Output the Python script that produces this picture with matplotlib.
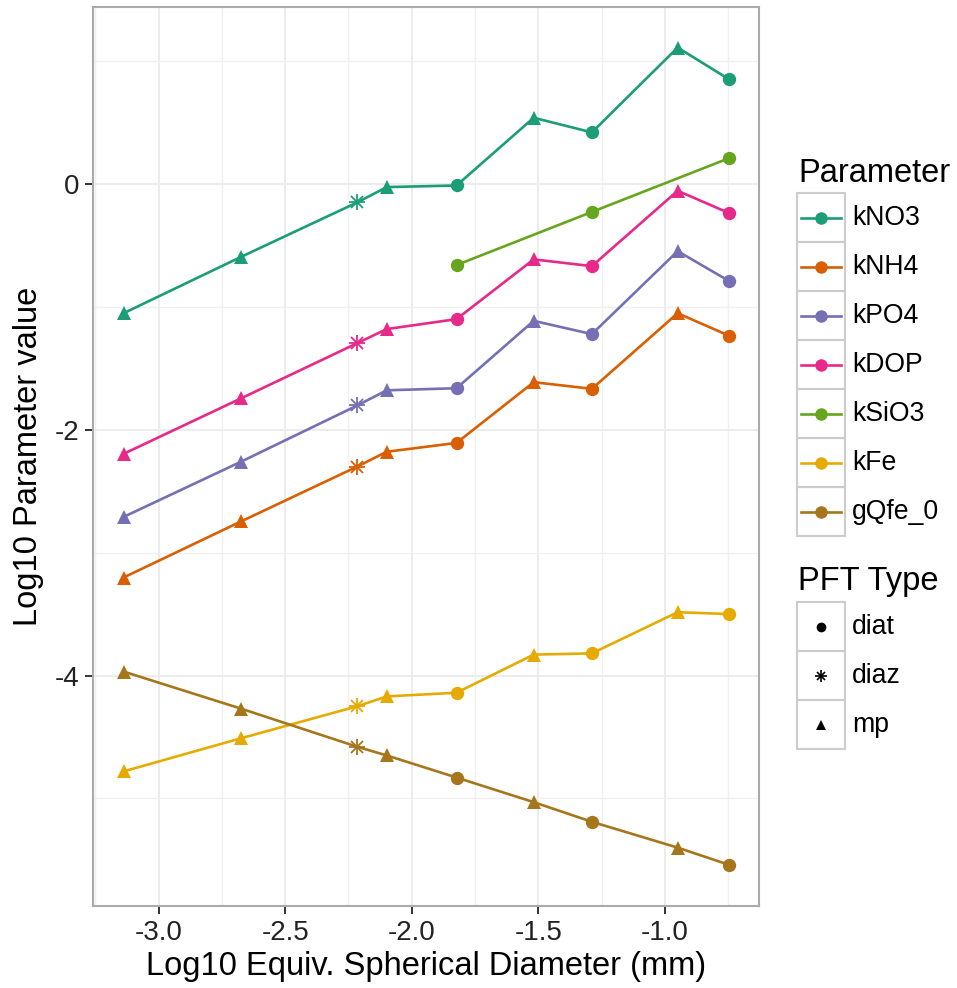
import numpy as np
import matplotlib
matplotlib.use('Agg')
from matplotlib import pyplot as plt
from matplotlib.patches import Rectangle

plt.rcParams['font.family'] = ['Liberation Sans', 'DejaVu Sans']

# log10 ESD (mm) of each PFT size class, and its type
esd = [-3.139, -2.674, -2.215, -2.099, -1.823, -1.518, -1.288, -0.949, -0.746]
pft = ['mp', 'mp', 'diaz', 'mp', 'diat', 'mp', 'diat', 'mp', 'diat']

params = ['kNO3', 'kNH4', 'kPO4', 'kDOP', 'kSiO3', 'kFe', 'gQfe_0']
kNO3 = [-1.053, -0.594, -0.151, -0.027, -0.014, 0.537, 0.418, 1.108, 0.850]
kNH4 = [-3.203, -2.746, -2.300, -2.180, -2.108, -1.614, -1.668, -1.053, -1.236]
kPO4 = [-2.710, -2.260, -1.803, -1.680, -1.663, -1.115, -1.223, -0.548, -0.791]
kDOP = [-2.197, -1.745, -1.296, -1.182, -1.101, -0.615, -0.670, -0.057, -0.238]
kSiO3 = [np.nan, np.nan, np.nan, np.nan, -0.661, np.nan, -0.229, np.nan, 0.208]
kFe = [-4.780, -4.510, -4.250, -4.170, -4.140, -3.830, -3.820, -3.485, -3.500]
gQfe_0 = [-3.968, -4.270, -4.580, -4.650, -4.830, -5.030, -5.190, -5.400, -5.540]
values = [kNO3, kNH4, kPO4, kDOP, kSiO3, kFe, gQfe_0]

colors = ['#1B9E77', '#D95F02', '#7570B3', '#E7298A', '#66A61E', '#E6AB02', '#A6761D']
pft_types = ['diat', 'diaz', 'mp']
markers = {'diat': 'o', 'mp': '^'}
msizes = {'diat': 9.6, 'mp': 10.5}


def asterisk(a, x, y, col, size, lw):
    # ggplot shape 8: a '+' and an 'x' on top of each other
    a.plot(x, y, ls='none', marker='+', ms=size, mec=col, mew=lw, zorder=4)
    a.plot(x, y, ls='none', marker='x', ms=size / 1.414, mec=col, mew=lw, zorder=4)


W, H = 957, 988
fig = plt.figure(figsize=(W / 100, H / 100), dpi=100)
ax = fig.add_axes([93.3 / W, 1 - 905.7 / H, (759.3 - 93.3) / W, (905.7 - 6.7) / H])

esd_a = np.array(esd)
pft_a = np.array(pft)

# lines first (ggplot geom_line), then points
for vals, col in zip(values, colors):
    v = np.array(vals)
    ok = ~np.isnan(v)
    ax.plot(esd_a[ok], v[ok], color=col, lw=1.9, zorder=3, solid_capstyle='round')

for vals, col in zip(values, colors):
    v = np.array(vals)
    for t in pft_types:
        m = (pft_a == t) & ~np.isnan(v)
        if not m.any():
            continue
        if t == 'diaz':
            asterisk(ax, esd_a[m], v[m], col, 12, 1.3)
        else:
            ax.plot(esd_a[m], v[m], ls='none', marker=markers[t], ms=msizes[t],
                    mfc=col, mec=col, mew=0, zorder=4)

# ggplot-like 5% expansion
allv = np.concatenate([np.array(v) for v in values])
ymin, ymax = np.nanmin(allv), np.nanmax(allv)
xmin, xmax = esd_a.min(), esd_a.max()
ax.set_xlim(xmin - 0.05 * (xmax - xmin), xmax + 0.05 * (xmax - xmin))
ax.set_ylim(ymin - 0.05 * (ymax - ymin), ymax + 0.05 * (ymax - ymin))

ax.set_xticks([-3.0, -2.5, -2.0, -1.5, -1.0])
ax.set_xticklabels(['-3.0', '-2.5', '-2.0', '-1.5', '-1.0'])
ax.set_yticks([0, -2, -4])
ax.set_yticklabels(['0', '-2', '-4'])
ax.set_xticks([-3.25, -2.75, -2.25, -1.75, -1.25, -0.75], minor=True)
ax.set_yticks([1, -1, -3, -5], minor=True)
ax.grid(which='major', color='#EBEBEB', lw=1.3, zorder=0)
ax.grid(which='minor', color='#F0F0F0', lw=1.0, zorder=0)
ax.set_axisbelow(True)
ax.tick_params(which='minor', length=0)
ax.tick_params(which='major', length=5.5, width=1.4, color='#333333',
               labelsize=20, labelcolor='#222222', pad=4.5)
for s in ax.spines.values():
    s.set_color('#AAAAAA')
    s.set_linewidth(1.5)

ax.set_xlabel('Log10 Equiv. Spherical Diameter (mm)', fontsize=23.5, labelpad=4)
ax.set_ylabel('Log10 Parameter value', fontsize=23.5, labelpad=8)

# legends drawn in pixel coordinates
lax = fig.add_axes([0, 0, 1, 1], zorder=-1)
lax.set_xlim(0, W)
lax.set_ylim(H, 0)
lax.axis('off')

key = 49
bx = 797

lax.text(bx + 1, 181.7, 'Parameter', fontsize=23.5, va='baseline', ha='left')
top = 193.3
for i, (p, col) in enumerate(zip(params, colors)):
    y0 = top + i * key
    lax.add_patch(Rectangle((bx, y0), 48, key, fill=False, ec='#CCCCCC', lw=1.5))
    cy = y0 + key / 2
    lax.plot([bx + 4, bx + 44], [cy, cy], color=col, lw=1.9)
    lax.plot([bx + 24], [cy], 'o', color=col, ms=9, mew=0)
    lax.text(bx + 55, cy, p, fontsize=19.2, va='center', ha='left')

lax.text(bx + 1, 590, 'PFT Type', fontsize=23.5, va='baseline', ha='left')
top2 = 602
for i, t in enumerate(pft_types):
    y0 = top2 + i * key
    lax.add_patch(Rectangle((bx, y0), 48, key, fill=False, ec='#CCCCCC', lw=1.5))
    cy = y0 + key / 2
    if t == 'diaz':
        asterisk(lax, [bx + 24], [cy], 'black', 9, 1.2)
    else:
        lax.plot([bx + 24], [cy], ls='none', marker=markers[t], ms=7, color='black', mew=0)
    lax.text(bx + 55, cy, t, fontsize=19.2, va='center', ha='left')

fig.savefig('out.png', dpi=100)
